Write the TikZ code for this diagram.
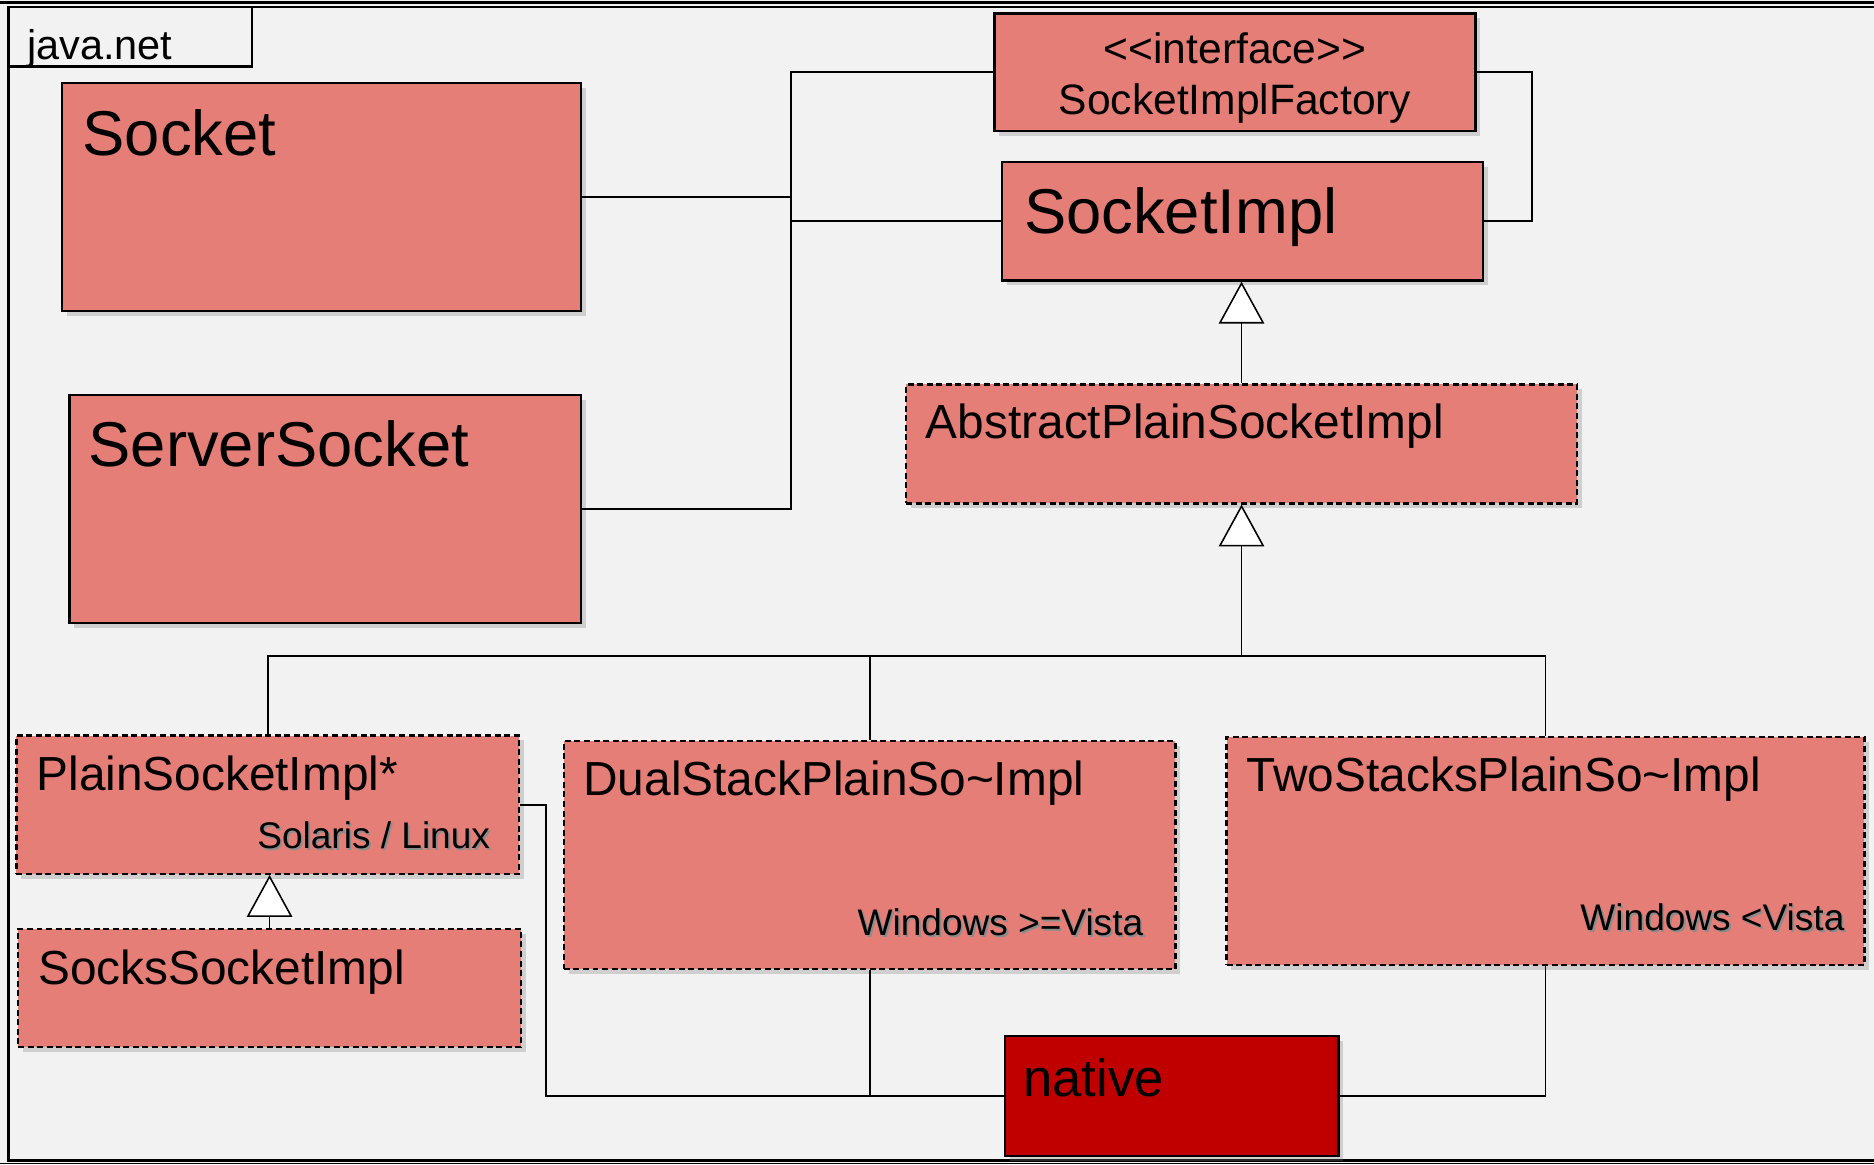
\documentclass[tikz,border=0pt]{standalone}
\usepackage{fontspec}
\setmainfont{Liberation Sans}[Ligatures=TeXOff]
\usetikzlibrary{calc}
\usetikzlibrary{arrows.meta}
\usetikzlibrary{shadows}

\definecolor{salmon}{RGB}{230,126,120}
\definecolor{nativered}{RGB}{192,0,0}
\definecolor{paper}{RGB}{242,242,242}

\newcommand{\clsbig}{\fontsize{53}{60}\selectfont}
\newcommand{\clsmid}{\fontsize{40}{46}\selectfont}
\newcommand{\clsface}{\fontsize{35.6}{43}\selectfont}
\newcommand{\clsos}{\fontsize{31}{36}\selectfont}
\newcommand{\clspkg}{\fontsize{34.7}{40}\selectfont}
% grey copy under the platform labels
\newcommand{\shtxt}[1]{\rlap{\hspace*{1.6pt}\raisebox{-1.6pt}{\color{black!45}#1}}#1}

\tikzset{
  cls/.style={draw=black, line width=2pt, fill=salmon, anchor=north west, inner sep=0pt,
    drop shadow={shadow xshift=4pt, shadow yshift=-4pt, opacity=.3}},
  implbox/.style={cls, line width=1.9pt, dash pattern=on 5pt off 3pt},
  lbl/.style={anchor=base west, inner sep=0pt},
  oslbl/.style={anchor=base east, inner sep=0pt, font=\clsos},
  link/.style={line width=1.5pt},
  inherit/.style={line width=1.3pt, -{Triangle[fill=white, width=38pt, length=35pt]}},
}

\begin{document}
\begin{tikzpicture}[x=1pt, y=-1pt]
\useasboundingbox (0,0) rectangle (1568,974);
\fill[paper] (0,0) rectangle (1568,974);

% package frame
\draw[line width=2.5pt] (0,2) -- (1568,2);
\draw[line width=2pt] (7,6) rectangle (1590,971);
\draw[line width=1.5pt] (0,973.5) -- (1568,973.5);
\draw[line width=2pt] (7,6) rectangle (211,55.8);
\node[lbl, font=\clspkg] (pkg) at (22.4,50) {java.net};

% classes
\node[cls, minimum width=434.3pt, minimum height=190.4pt] (sock) at (51,68.6) {};
\node[cls, minimum width=428.3pt, minimum height=190.5pt] (ssock) at (57,329.7) {};
\node[cls, minimum width=402.7pt, minimum height=98.5pt] (factory) at (831,10.3) {};
\node[cls, minimum width=402.4pt, minimum height=99pt] (impl) at (837.6,134.7) {};
\node[implbox, minimum width=561.3pt, minimum height=99.6pt] (apsi) at (757.2,320.7) {};
\node[implbox, minimum width=420.7pt, minimum height=115.7pt] (psi) at (12.8,614.5) {};
\node[implbox, minimum width=420.8pt, minimum height=98.8pt] (socks) at (14.2,776.2) {};
\node[implbox, minimum width=511.7pt, minimum height=190.5pt] (dual) at (470.8,619.2) {};
\node[implbox, minimum width=533.7pt, minimum height=190.9pt] (two) at (1025.3,615.7) {};
\node[cls, fill=nativered, minimum width=279.1pt, minimum height=100pt] (native) at (839.7,866) {};

% class names
\node[lbl, font=\clsbig] (sockname) at ($(sock.north west)+(18,61.1)$) {Socket};
\node[lbl, font=\clsbig] (ssockname) at ($(ssock.north west)+(17,61)$) {ServerSocket};
\node[anchor=base, inner sep=0pt, font=\clsface] (stereo) at ($(factory.north)+(0,42.7)$) {<<interface>>};
\node[anchor=base, inner sep=0pt, font=\clsface] (factoryname) at ($(factory.north)+(0,85.9)$) {SocketImplFactory};
\node[lbl, font=\clsbig] (implname) at ($(impl.north west)+(19,60.3)$) {SocketImpl};
\node[lbl, font=\clsmid] (apsiname) at ($(apsi.north west)+(17.3,46.6)$) {AbstractPlainSocketImpl};
\node[lbl, font=\clsmid] (psiname) at ($(psi.north west)+(17.6,47.1)$) {PlainSocketImpl*};
\node[oslbl] (psios) at ($(psi.north east)+(-25.2,95.4)$) {\shtxt{Solaris / Linux}};
\node[lbl, font=\clsmid] (socksname) at ($(socks.north west)+(17.6,47.8)$) {SocksSocketImpl};
\node[lbl, font=\clsmid] (dualname) at ($(dual.north west)+(17.2,46.8)$) {DualStackPlainSo\char`\~Impl};
\node[oslbl] (dualos) at ($(dual.north east)+(-27.7,163.2)$) {\shtxt{Windows >=Vista}};
\node[lbl, font=\clsmid] (twoname) at ($(two.north west)+(17.7,46.7)$) {TwoStacksPlainSo\char`\~Impl};
\node[oslbl] (twoos) at ($(two.north east)+(-17.5,163)$) {\shtxt{Windows <Vista}};
\node[lbl, font=\fontsize{44}{50}\selectfont] (nativename) at ($(native.north west)+(16.3,51.6)$) {native};

% associations
\coordinate (bus) at (661.5,0);
\draw[link] (factory.west) -| (bus |- ssock.east) -- (ssock.east);
\draw[link] (sock.east) -- (sock.east -| bus);
\draw[link] (impl.west) -- (impl.west -| bus);
\draw[link] (factory.east) -- ++(46,0) |- (impl.east);

% inheritance
\draw[inherit] (apsi.north) -- (apsi.north |- impl.south);
\coordinate (bar) at (apsi.south |- 0,549);
\draw[inherit] (bar) -- (apsi.south);
\draw[link] (psi.north) |- (bar) -| (two.north);
\draw[link] (dual.north) -- (dual.north |- bar);
\draw[inherit] (socks.north) -- (socks.north |- psi.south);

% native calls
\draw[link] (psi.east) -- ++(21.5,0) |- (native.west);
\draw[link] (dual.south) -- (dual.south |- native.west);
\draw[link] (two.south) |- (native.east);
\end{tikzpicture}
\end{document}
